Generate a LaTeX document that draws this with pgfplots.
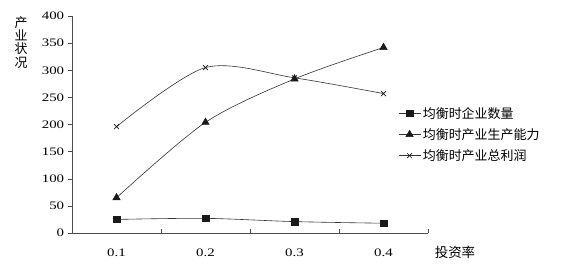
\documentclass[border=0pt]{standalone}
\usepackage{pgfplots}
\pgfplotsset{compat=1.18}
\usepackage{fontspec}
\setmainfont{Liberation Serif}
\newfontfamily\numfont[FakeStretch=1.3]{Liberation Serif}
\newfontfamily\cjk{Noto Sans CJK SC}
\begin{document}
\fontsize{11}{13}\selectfont
\begin{tikzpicture}[x=1bp,y=1bp]
\path[use as bounding box] (0,0) rectangle (569,271);
\begin{axis}[
  at={(72bp,38bp)}, anchor=south west,
  scale only axis, width=356bp, height=217bp,
  xmin=0.5, xmax=4.5, ymin=0, ymax=400,
  axis lines=left, axis line style={-, draw=black!70, line width=0.6pt},
  xtick={0.5,1.5,2.5,3.5,4.5},
  xticklabels={0.1,0.2,0.3,0.4},
  x tick label as interval,
  ytick={0,50,...,400},
  tick style={draw=black!70, line width=0.5pt},
  major tick length=4bp,
  xtick align=inside, ytick align=outside,
  xticklabel style={yshift=-12bp, font=\numfont\fontsize{11.5}{13}\selectfont},
  yticklabel style={font=\numfont\fontsize{11.5}{13}\selectfont},
  /pgf/number format/assume math mode=true,
  clip=false,
  legend style={at={(0.916,0.59)}, anchor=north west, draw=none, fill=none,
    font=\cjk\fontsize{13}{15}\selectfont, row sep=4.5bp, inner sep=0pt,
    /tikz/every even column/.append style={column sep=3bp}},
  legend cell align=left,
  legend image code/.code={
    \draw[#1, mark repeat=2, mark phase=2] plot coordinates {(0bp,0bp) (11bp,0bp) (22bp,0bp)};
  },
]
\addplot[smooth, draw=black!80, line width=0.6pt, mark=square*, mark size=3.3bp, mark options={fill=black!90, draw=black!90}]
  coordinates {(1,25) (2,27) (3,21) (4,18)};
\addlegendentry{均衡时企业数量}
\addplot[smooth, draw=black!80, line width=0.6pt, mark=triangle*, mark size=4.2bp, mark options={fill=black!90, draw=black!90}]
  coordinates {(1,65) (2,204) (3,284) (4,342)};
\addlegendentry{均衡时产业生产能力}
\addplot[smooth, draw=black!80, line width=0.6pt, mark=x, mark size=3.5bp, mark options={draw=black!90, line width=0.7pt}]
  coordinates {(1,196) (2,305) (3,286) (4,257)};
\addlegendentry{均衡时产业总利润}
\node[font=\cjk\fontsize{13}{13.5}\selectfont, anchor=north, align=center, inner sep=0pt]
  at ([xshift=-51bp,yshift=0bp]rel axis cs:0,1) {产\\业\\状\\况};
\node[font=\cjk\fontsize{13.5}{15}\selectfont, anchor=center]
  at ([xshift=27bp,yshift=-19bp]rel axis cs:1,0) {投资率};
\end{axis}
\end{tikzpicture}
\end{document}
